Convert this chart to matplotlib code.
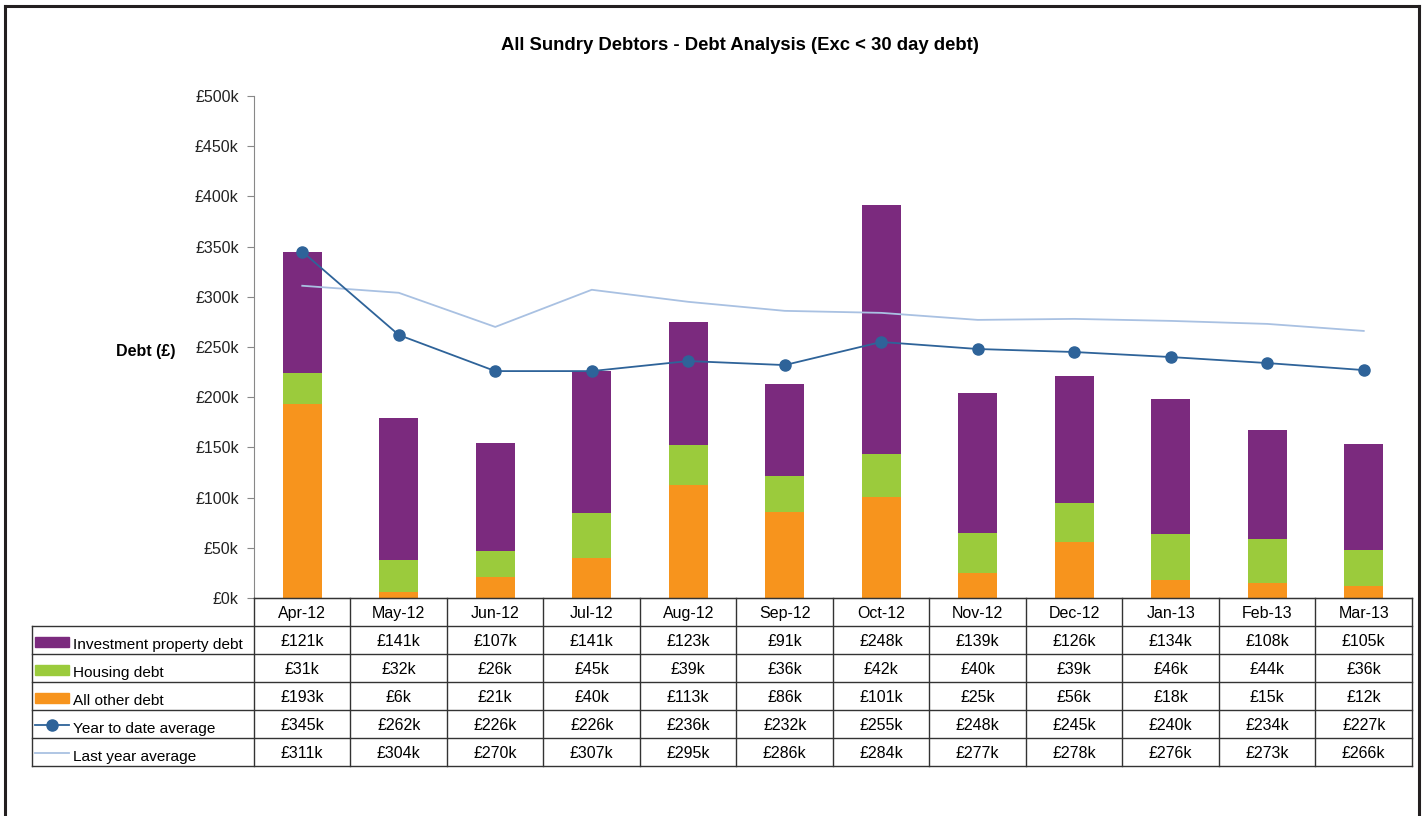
import matplotlib
matplotlib.use("Agg")
import matplotlib.pyplot as plt
from matplotlib.lines import Line2D
from matplotlib.patches import Rectangle
import numpy as np

plt.rcParams['font.family'] = ['Liberation Sans', 'DejaVu Sans']

# ── Data ─────────────────────────────────────────────
months = ["Apr-12", "May-12", "Jun-12", "Jul-12", "Aug-12", "Sep-12",
          "Oct-12", "Nov-12", "Dec-12", "Jan-13", "Feb-13", "Mar-13"]
investment = [121, 141, 107, 141, 123, 91, 248, 139, 126, 134, 108, 105]
housing    = [31, 32, 26, 45, 39, 36, 42, 40, 39, 46, 44, 36]
other      = [193, 6, 21, 40, 113, 86, 101, 25, 56, 18, 15, 12]
ytd_avg    = [345, 262, 226, 226, 236, 232, 255, 248, 245, 240, 234, 227]
last_year  = [311, 304, 270, 307, 295, 286, 284, 277, 278, 276, 273, 266]

C_INV = "#7B2A7E"
C_HOU = "#9BCB3C"
C_OTH = "#F7941D"
C_YTD = "#2E6399"
C_LY = "#A9C1E2"
GRID = "#333333"
FS = 11.5

W, H = 1425, 816
fig = plt.figure(figsize=(W / 100, H / 100), dpi=100)

x0_px, x1_px = 254, 1412
y_top, y_zero, y_tab = 96, 598, 766
ax = fig.add_axes([x0_px / W, 1 - y_zero / H, (x1_px - x0_px) / W, (y_zero - y_top) / H])

x = np.arange(len(months))
bw = 0.4
ax.bar(x, other, bw, color=C_OTH, zorder=2)
ax.bar(x, housing, bw, bottom=other, color=C_HOU, zorder=2)
ax.bar(x, investment, bw, bottom=np.add(other, housing), color=C_INV, zorder=2)
ax.plot(x, last_year, color=C_LY, lw=1.3, zorder=3)
ax.plot(x, ytd_avg, color=C_YTD, lw=1.3, marker="o", ms=8, zorder=4)

ax.set_xlim(-0.5, len(months) - 0.5)
ax.set_ylim(0, 500)
ax.set_yticks(range(0, 501, 50))
ax.set_yticklabels([f"£{v}k" for v in range(0, 501, 50)], fontsize=FS, color="#222222")
ax.set_xticks([])
for s in ("top", "right"):
    ax.spines[s].set_visible(False)
ax.spines["left"].set_color("#888888")
ax.spines["bottom"].set_color(GRID)
ax.tick_params(axis="y", length=5, color="#888888", pad=6)
ax.set_ylabel("Debt (£)", fontsize=FS, fontweight="bold", rotation=0,
              ha="center", va="center")
ax.yaxis.set_label_coords((146 - x0_px) / (x1_px - x0_px), (y_zero - 352) / (y_zero - y_top))

fig.text(740 / W, 1 - 46 / H, "All Sundry Debtors - Debt Analysis (Exc < 30 day debt)",
         ha="center", va="center", fontsize=13.3, fontweight="bold")

# ── Data table ───────────────────────────────────────
tab = fig.add_axes([x0_px / W, 1 - y_tab / H, (x1_px - x0_px) / W, (y_tab - y_zero) / H])
tab.set_xlim(-0.5, len(months) - 0.5)
tab.set_ylim(6, 0)
tab.axis("off")

unit = (x1_px - x0_px) / len(months)


def px(p):
    return -0.5 + (p - x0_px) / unit


left_edge = px(32)
kw = dict(color=GRID, lw=1, clip_on=False)
# horizontal lines
tab.plot([-0.5, 11.5], [0, 0], **kw)
for r in range(1, 7):
    tab.plot([left_edge, 11.5], [r, r], **kw)
# vertical lines
for i in range(len(months) + 1):
    tab.plot([i - 0.5, i - 0.5], [0, 6], **kw)
tab.plot([left_edge, left_edge], [1, 6], **kw)

for i, m in enumerate(months):
    tab.text(i, 0.55, m, ha="center", va="center", fontsize=FS)

rows = [("Investment property debt", investment),
        ("Housing debt", housing),
        ("All other debt", other),
        ("Year to date average", ytd_avg),
        ("Last year average", last_year)]
for r, (label, vals) in enumerate(rows, start=1):
    for i, v in enumerate(vals):
        tab.text(i, r + 0.55, f"£{v}k", ha="center", va="center", fontsize=FS)
    tab.text(px(73), r + 0.68, label, ha="left", va="center", fontsize=11.1)

kx0, kx1 = px(35), px(69)
for r, c in zip((1, 2, 3), (C_INV, C_HOU, C_OTH)):
    tab.add_patch(Rectangle((kx0, r + 0.38), kx1 - kx0, 0.38, color=c, clip_on=False))
tab.add_line(Line2D([kx0, kx1], [4.55, 4.55], color=C_YTD, lw=1.3, clip_on=False))
tab.plot([(kx0 + kx1) / 2], [4.55], "o", color=C_YTD, ms=8, clip_on=False)
tab.add_line(Line2D([kx0, kx1], [5.55, 5.55], color=C_LY, lw=1.3, clip_on=False))

# ── Outer frame ──────────────────────────────────────
fkw = dict(color="#231F20", lw=2.2, transform=fig.transFigure)
fig.add_artist(Line2D([5 / W, 5 / W], [0, 1 - 6 / H], **fkw))
fig.add_artist(Line2D([5 / W, 1419 / W], [1 - 6 / H, 1 - 6 / H], **fkw))
fig.add_artist(Line2D([1419 / W, 1419 / W], [0, 1 - 6 / H], **fkw))

fig.savefig("out.png", dpi=100)
